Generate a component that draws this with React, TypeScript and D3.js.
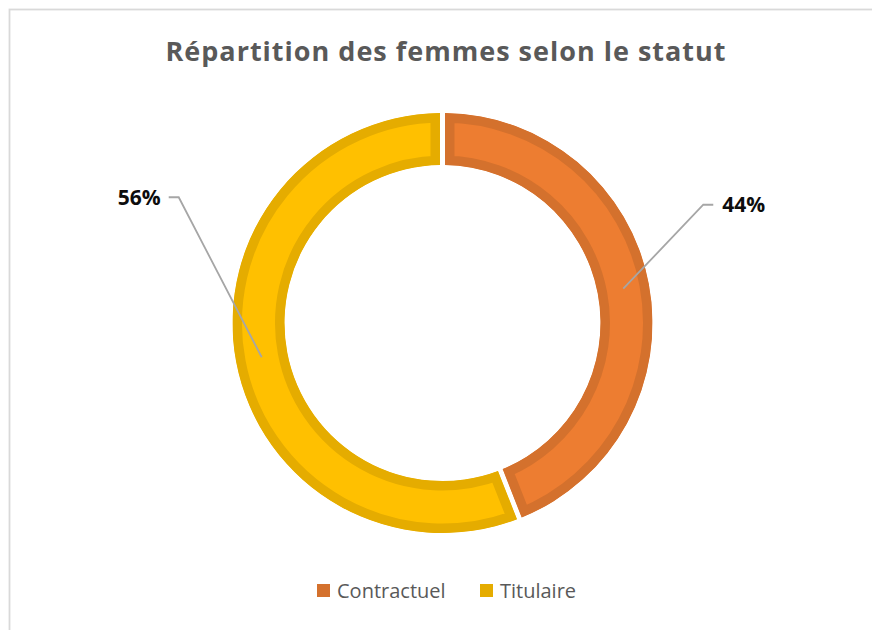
import React from 'react';
import * as d3 from 'd3';

const categories = ['Contractuel', 'Titulaire'];
const values = [44, 56];
const fillColors = ['#ED7D31', '#FFC000'];
const borderColors = ['#D4712D', '#E5AC00'];
const title = 'Répartition des femmes selon le statut';

const W = 872;
const H = 630;
const cx = 442.5;
const cy = 323;
const outerR = 210;
const innerR = 158;
// elbow offsets from slice centroid for the leader lines
const elbowOffsets: [number, number][] = [
  [80, -84],
  [-83, -160],
];
const FONT = "'Open Sans', 'Noto Sans', sans-serif";

export default function App() {
  const pie = d3
    .pie<number>()
    .sort(null)
    .value((d) => d)
    .padAngle(0.019);
  const arcs = pie(values);
  const arc = d3
    .arc<d3.PieArcDatum<number>>()
    .innerRadius(innerR)
    .outerRadius(outerR);
  const total = d3.sum(values);
  const pct = d3.format('.0%');

  return (
    <svg
      width={W}
      height={H}
      style={{ position: 'absolute', left: 0, top: 0, background: '#fff' }}
    >
      <rect x={0} y={0} width={W} height={H} fill="#fff" />
      <rect
        x={9.5}
        y={9.5}
        width={W + 20}
        height={H + 20}
        fill="none"
        stroke="#d9d9d9"
        strokeWidth={1.8}
      />
      <text
        x={446}
        y={61}
        textAnchor="middle"
        fontFamily={FONT}
        fontWeight={700}
        fontSize={27}
        fill="#595959"
        letterSpacing={1}
      >
        {title}
      </text>
      <g transform={`translate(${cx},${cy})`}>
        <defs>
          {arcs.map((a, i) => (
            <clipPath id={`clip-${i}`} key={i}>
              <path d={arc(a) || ''} />
            </clipPath>
          ))}
        </defs>
        {arcs.map((a, i) => (
          <path
            key={i}
            d={arc(a) || ''}
            fill={fillColors[i]}
            stroke={borderColors[i]}
            strokeWidth={19}
            clipPath={`url(#clip-${i})`}
          />
        ))}
        {arcs.map((a, i) => {
          const [x0, y0] = arc.centroid(a);
          const [dx, dy] = elbowOffsets[i];
          const x1 = x0 + dx;
          const y1 = y0 + dy;
          const right = x1 > 0;
          const x2 = x1 + (right ? 10 : -10);
          return (
            <g key={i}>
              <polyline
                points={`${x0},${y0} ${x1},${y1} ${x2},${y1}`}
                fill="none"
                stroke="#a6a6a6"
                strokeWidth={1.8}
              />
              <text
                x={x2 + (right ? 9 : -8)}
                y={y1}
                dy="0.36em"
                textAnchor={right ? 'start' : 'end'}
                fontFamily={FONT}
                fontWeight={700}
                fontSize={21}
                fill="#0d0d0d"
              >
                {pct(values[i] / total)}
              </text>
            </g>
          );
        })}
      </g>
      <g>
        {categories.map((c, i) => {
          const xs = [317, 480];
          return (
            <g key={c}>
              <rect
                x={xs[i]}
                y={584}
                width={13}
                height={13}
                fill={borderColors[i]}
              />
              <text
                x={xs[i] + 20}
                y={597.5}
                fontFamily={FONT}
                fontSize={20}
                fill="#595959"
              >
                {c}
              </text>
            </g>
          );
        })}
      </g>
    </svg>
  );
}
